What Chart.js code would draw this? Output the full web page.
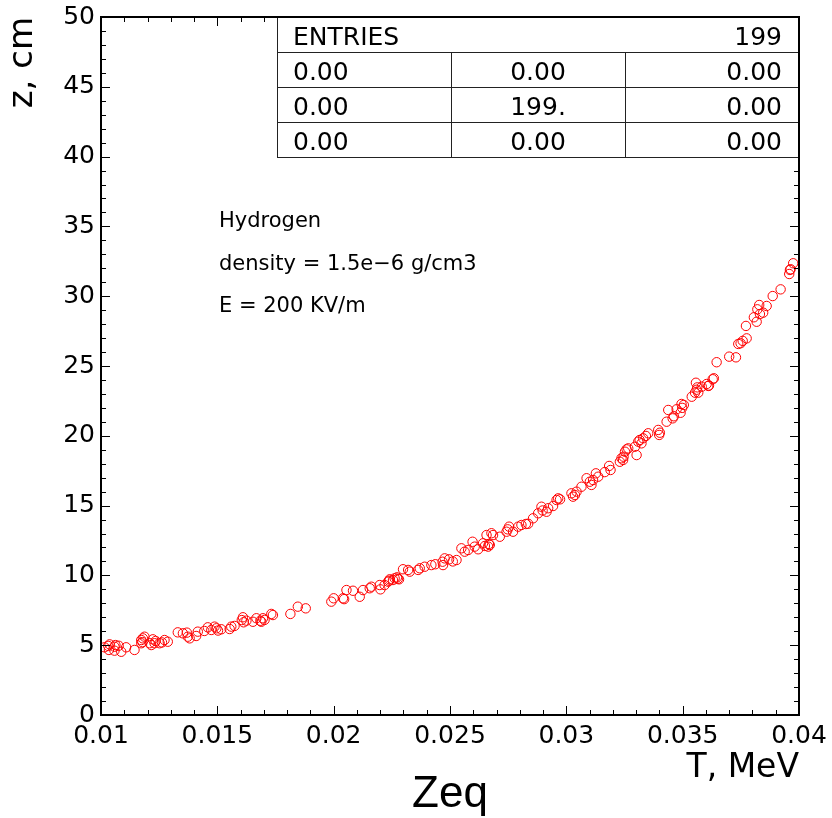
<!DOCTYPE html>
<html><head><meta charset="utf-8">
<script src="https://cdn.jsdelivr.net/npm/chart.js@4/dist/chart.umd.min.js"></script>
<style>html,body{margin:0;padding:0;background:#fff;}#wrap{width:832px;height:818px;}</style>
</head><body><div id="wrap"><canvas id="c" width="832" height="818"></canvas></div>
<script>
// T, MeV values (x)
const tValues = [
0.01015,0.01037,0.01034,0.01058,0.01062,0.01058,0.01087,0.01108,0.01144,0.01173,
0.01180,0.01187,0.01173,0.01209,0.01216,0.01223,0.01230,0.01252,0.01273,0.01287,
0.01330,0.01352,0.01369,0.01373,0.01381,0.01409,0.01416,0.01459,0.01474,0.01488,
0.01496,0.01517,0.01553,0.01560,0.01574,0.01610,0.01613,0.01625,0.01653,0.01668,
0.01689,0.01696,0.01703,0.01732,0.01739,0.01814,0.01846,0.01880,
0.01990,0.02000,0.02040,0.02055,0.02083,0.02112,0.02126,0.02155,0.02162,0.02198,
0.02201,0.02219,0.02234,0.02241,0.02255,0.02262,0.02272,0.02281,0.02298,0.02320,
0.02327,0.02363,0.02370,0.02391,0.02420,0.02468,0.02470,0.02477,0.02496,0.02528,
0.02549,0.02563,0.02578,0.02597,0.02606,0.02621,0.02642,0.02650,0.02664,0.02671,
0.02657,0.02678,0.02685,0.02714,0.02743,0.02754,0.02771,0.02793,0.02807,0.02826,
0.02857,0.02879,0.02893,0.02915,0.02922,0.02943,0.02958,0.02965,0.03022,0.03029,
0.03037,0.03044,0.03065,0.03087,0.03101,0.03108,0.03115,0.03127,0.03137,0.03184,
0.03190,0.03230,0.03237,0.03244,0.03252,0.03259,0.03295,0.03302,0.03309,0.03323,
0.03330,0.03352,0.03342,0.03395,0.03399,0.03402,0.03431,0.03438,
0.03457,0.03474,0.03491,0.03495,0.03505,0.03539,0.03553,0.03557,0.03563,0.03567,
0.03582,0.03603,0.03610,0.03629,0.03634,0.03646,0.03700,0.03729,0.03739,0.03749,
0.03775,0.03772,0.03806,0.03818,0.03821,0.03829,0.03832,0.03846,0.03861,0.03887,
0.03921,0.03958,0.03961,0.03975,0.03964,
0.01031,0.01076,0.01178,0.01235,0.01262,0.01444,0.01503,0.01605,0.01685,
0.02045,0.02238,0.02276,0.02437,0.02512,0.02667,0.02748,0.02836,0.02898,0.02973,
0.03165,0.03246,0.03266,0.03315,0.03462,0.03498,0.03560,0.03613,0.03758
];
// z, cm values (y)
const zValues = [
4.85,5.06,4.66,4.89,5.01,4.61,4.53,4.85,4.66,5.14,
5.49,5.61,5.37,5.14,5.01,5.42,5.14,5.14,5.37,5.25,
5.92,5.85,5.90,5.61,5.49,5.66,5.97,6.28,6.09,6.33,
6.21,6.14,6.16,6.33,6.38,7.00,6.64,6.76,6.68,6.93,
6.68,6.93,6.81,7.24,7.16,7.24,7.76,7.64,
8.12,8.36,8.36,8.95,8.90,8.47,8.95,9.08,9.19,9.31,
9.00,9.31,9.55,9.72,9.67,9.79,9.86,9.72,10.44,10.39,
10.27,10.39,10.51,10.62,10.74,10.98,10.74,11.22,11.15,11.10,
11.94,11.70,11.82,12.41,12.06,11.87,12.30,12.11,12.06,12.18,
12.89,13.02,12.89,12.77,13.13,13.49,13.13,13.49,13.61,13.68,
14.09,14.45,14.92,14.56,14.81,14.97,15.40,15.52,15.88,15.64,
15.76,16.00,16.35,16.96,16.71,16.48,16.83,17.31,17.07,17.84,
17.55,18.14,18.39,18.27,18.86,19.03,19.22,18.62,19.58,19.46,
19.82,20.18,19.99,20.42,20.06,20.22,21.01,21.85,
21.25,21.90,21.65,22.28,22.21,22.80,23.09,23.80,23.47,23.09,
23.52,23.71,23.57,24.05,24.12,25.27,25.67,25.62,26.58,26.63,
26.98,27.87,28.49,28.17,29.06,29.37,28.72,28.82,29.30,30.01,
30.49,31.59,31.88,32.36,31.93,
4.95,4.96,5.22,5.30,5.20,6.02,6.05,6.80,6.75,
8.30,9.62,9.76,10.80,11.00,12.25,13.30,13.70,14.65,15.45,
17.40,18.50,19.10,19.70,21.40,22.00,23.30,23.60,26.80
];
const xTickValues = [0.01,0.015,0.02,0.025,0.03,0.035,0.04];
const xTickLabels = ['0.01','0.015','0.02','0.025','0.03','0.035','0.04'];
const yTickValues = [0,5,10,15,20,25,30,35,40,45,50];
const yTickLabels = ['0','5','10','15','20','25','30','35','40','45','50'];
const statsRows = [['ENTRIES','','199'],['0.00','0.00','0.00'],['0.00','199.','0.00'],['0.00','0.00','0.00']];
const notes = ['Hydrogen','density = 1.5e\u22126 g/cm3','E = 200 KV/m'];
const xTitle = 'T, MeV';
const yTitle = 'z, cm';
const bottomTitle = 'Zeq';

const FONT = 'DejaVu Sans';
const points = tValues.map((t,i)=>({x:t,y:zValues[i]}));

const decor = {
  id:'decor',
  afterDraw(chart){
    const ctx = chart.ctx, ca = chart.chartArea;
    const xs = chart.scales.x, ys = chart.scales.y;
    ctx.save();
    ctx.strokeStyle = '#000';
    ctx.lineWidth = 1;
    ctx.beginPath();
    for(let i=10;i<=40;i++){
      const px = Math.round(xs.getPixelForValue(i/1000))+0.5;
      const len = (i%5===0)?9:5;
      ctx.moveTo(px,ca.bottom); ctx.lineTo(px,ca.bottom-len);
      ctx.moveTo(px,ca.top); ctx.lineTo(px,ca.top+len);
    }
    for(let i=0;i<=50;i++){
      const py = Math.round(ys.getPixelForValue(i))+0.5;
      const len = (i%5===0)?9:5;
      ctx.moveTo(ca.left,py); ctx.lineTo(ca.left+len,py);
      ctx.moveTo(ca.right,py); ctx.lineTo(ca.right-len,py);
    }
    ctx.stroke();
    // stats table
    const tl = 277, tt = ca.top, tr = ca.right, rh = 35;
    const cw = (tr-tl)/3;
    ctx.fillStyle = '#fff';
    ctx.fillRect(tl,tt,tr-tl,rh*4);
    ctx.strokeStyle = '#222';
    ctx.lineWidth = 1;
    ctx.beginPath();
    ctx.moveTo(tl+0.5,tt); ctx.lineTo(tl+0.5,tt+rh*4);
    for(let r=1;r<=4;r++){ const y=Math.round(tt+rh*r)+0.5; ctx.moveTo(tl,y); ctx.lineTo(tr,y); }
    for(let c=1;c<=2;c++){ const x=Math.round(tl+cw*c)+0.5; ctx.moveTo(x,tt+rh); ctx.lineTo(x,tt+rh*4); }
    ctx.stroke();
    ctx.fillStyle = '#000';
    ctx.font = '25px "'+FONT+'"';
    ctx.textBaseline = 'alphabetic';
    statsRows.forEach((row,r)=>{
      const by = tt + rh*r + 28;
      ctx.textAlign='left'; ctx.fillText(row[0], tl+16, by);
      ctx.textAlign='center'; if(row[1]) ctx.fillText(row[1], tl+cw*1.5, by);
      ctx.textAlign='right'; ctx.fillText(row[2], tr-17, by);
    });
    // notes
    ctx.font = '21px "'+FONT+'"';
    ctx.textAlign='left';
    notes.forEach((n,i)=>{ ctx.fillText(n, 219, 227 + i*42.5); });
    // bottom title
    ctx.font = '44px "Liberation Sans"';
    ctx.textAlign='center';
    ctx.fillText(bottomTitle, 450, 807);
    // frame
    ctx.strokeStyle='#000';
    ctx.lineWidth = 2;
    ctx.strokeRect(ca.left, ca.top, ca.right-ca.left, ca.bottom-ca.top);
    ctx.restore();
  }
};

new Chart(document.getElementById('c'), {
  type:'scatter',
  data:{datasets:[{
    data:points,
    pointStyle:'circle',
    pointRadius:4.7,
    pointBorderWidth:1,
    pointBorderColor:'#ff0000',
    pointBackgroundColor:'rgba(0,0,0,0)',
    showLine:false
  }]},
  options:{
    responsive:false,
    devicePixelRatio:1,
    animation:false,
    layout:{padding:{top:17,right:33,bottom:0,left:0}},
    plugins:{legend:{display:false},tooltip:{enabled:false},title:{display:false}},
    scales:{
      x:{
        type:'linear', min:0.01, max:0.04,
        afterFit(s){ s.height = 103; s.paddingLeft = 0; s.paddingRight = 0; },
        afterBuildTicks(s){ s.ticks = xTickValues.map(v=>({value:v})); },
        grid:{display:false, drawTicks:false},
        border:{display:false},
        ticks:{padding:6, color:'#000', font:{family:FONT,size:25}, maxRotation:0, autoSkip:false,
          callback:(v,i)=>xTickLabels[i]},
        title:{display:true, text:xTitle, align:'end', color:'#000',
          font:{family:FONT,size:33,lineHeight:1}, padding:{top:0,bottom:33}}
      },
      y:{
        type:'linear', min:0, max:50,
        afterFit(s){ s.width = 101; s.paddingTop = 0; s.paddingBottom = 0; },
        afterBuildTicks(s){ s.ticks = yTickValues.map(v=>({value:v})); },
        grid:{display:false, drawTicks:false},
        border:{display:false},
        ticks:{padding:6, color:'#000', font:{family:FONT,size:25}, autoSkip:false,
          callback:(v,i)=>yTickLabels[i]},
        title:{display:true, text:yTitle, align:'end', color:'#000',
          font:{family:FONT,size:34,lineHeight:1}, padding:{top:6,bottom:0}}
      }
    }
  },
  plugins:[decor]
});
</script>
</body></html>
